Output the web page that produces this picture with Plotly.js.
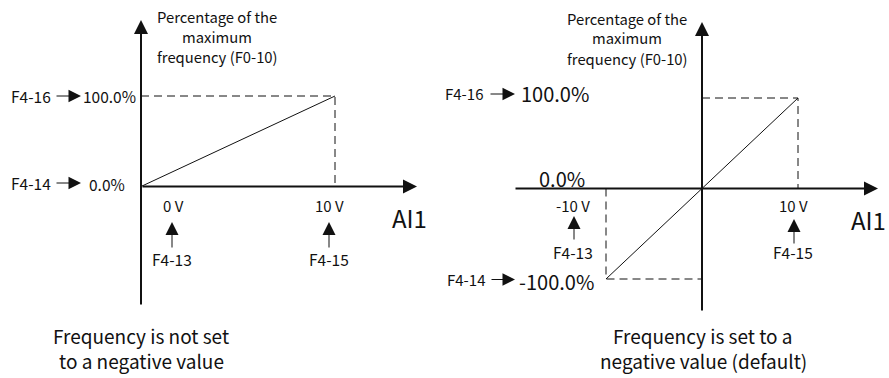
<!DOCTYPE html>
<html>
<head>
<meta charset="utf-8">
<script src="https://cdn.plot.ly/plotly-3.0.1.min.js"></script>
<style>html,body{margin:0;padding:0;background:#fff}#chart{width:889px;height:378px}</style>
</head>
<body>
<div id="chart"></div>
<script>
// ---- data ----
const leftVoltage = [0, 10];          // F4-13, F4-15 (V)
const leftPercent = [0, 100];         // F4-14, F4-16 (%)
const rightVoltage = [-10, 10];
const rightPercent = [-100, 100];
const leftTickLabels = ['0 V', '10 V'];
const rightTickLabels = ['-10 V', '10 V'];
const paramX = ['F4-13', 'F4-15'];
const paramY = ['F4-14', 'F4-16'];
const leftPctLabels = ['0.0%', '100.0%'];
const rightPctLabels = ['-100.0%', '0.0%', '100.0%'];
const yTitleLines = ['Percentage of the', 'maximum', 'frequency (F0-10)'];
const xTitle = 'AI1';
const captions = [['Frequency is not set', 'to a negative value'], ['Frequency is set to a', 'negative value (default)']];

// ---- layout helpers ----
const W = 889, H = 378;
const px = x => x / W;
const py = y => 1 - y / H;
const FONT = '"Noto Sans CJK SC", "Noto Sans", sans-serif';
const INK = '#111111';

// panel geometry (pixels)
const L = {ox: 141, oy: 186.5, xTip: 417, yTop: 20, yBot: 306, pxPerV: 19.4, pxPerPct: 0.905};
const R = {ox: 702, oy: 188.5, xTip: 878, xLeft: 514, yTop: 22, yBot: 312, pxPerV: 9.6, pxPerPct: 0.905};

const lxRange = [0, (L.xTip - L.ox) / L.pxPerV];
const lyRange = [-(L.yBot - L.oy) / L.pxPerPct, (L.oy - L.yTop) / L.pxPerPct];
const rxRange = [-(R.ox - R.xLeft) / R.pxPerV, (R.xTip - R.ox) / R.pxPerV];
const ryRange = [-(R.yBot - R.oy) / R.pxPerPct, (R.oy - R.yTop) / R.pxPerPct];

const solid = {color: INK, width: 1};
const dashed = {color: INK, width: 1, dash: '8px,5px'};

const traces = [
  {x: [leftVoltage[0], leftVoltage[1], leftVoltage[1]], y: [leftPercent[1], leftPercent[1], leftPercent[0]],
   mode: 'lines', line: dashed, xaxis: 'x', yaxis: 'y', hoverinfo: 'skip'},
  {x: leftVoltage, y: leftPercent, mode: 'lines', line: solid, xaxis: 'x', yaxis: 'y', hoverinfo: 'skip'},
  {x: [0, rightVoltage[1], rightVoltage[1]], y: [rightPercent[1], rightPercent[1], 0],
   mode: 'lines', line: dashed, xaxis: 'x2', yaxis: 'y2', hoverinfo: 'skip'},
  {x: [rightVoltage[0], rightVoltage[0], 0], y: [0, rightPercent[0], rightPercent[0]],
   mode: 'lines', line: dashed, xaxis: 'x2', yaxis: 'y2', hoverinfo: 'skip'},
  {x: rightVoltage, y: rightPercent, mode: 'lines', line: solid, xaxis: 'x2', yaxis: 'y2', hoverinfo: 'skip'}
];

const ann = [];
function axisArrow(xr, yr, x, y, ax, ay) {
  ann.push({xref: xr, yref: yr, axref: xr, ayref: yr, x: x, y: y, ax: ax, ay: ay, text: '',
    showarrow: true, arrowhead: 2, arrowsize: 1.4, arrowwidth: 2, arrowcolor: INK, standoff: 0, startstandoff: 0});
}
function pArrow(x0, y0, x1, y1, size) {
  ann.push({xref: 'paper', yref: 'paper', x: px(x1), y: py(y1), ax: x0 - x1, ay: y0 - y1, text: '',
    showarrow: true, arrowhead: 2, arrowsize: size, arrowwidth: 1, arrowcolor: INK, standoff: 0, startstandoff: 0});
}
function label(text, x, y, size, xanchor) {
  ann.push({xref: 'paper', yref: 'paper', x: px(x), y: py(y), text: text, showarrow: false,
    xanchor: xanchor || 'center', yanchor: 'middle', align: 'center', borderpad: 0,
    font: {family: FONT, size: size, color: INK}});
}
function lines(arr, x, y0, step, size) {
  arr.forEach((t, i) => label(t, x, y0 + i * step, size));
}

// axes with arrowheads
axisArrow('x', 'y', lxRange[1], 0, 0, 0);
axisArrow('x', 'y', 0, lyRange[1], 0, lyRange[0]);
axisArrow('x2', 'y2', rxRange[1], 0, rxRange[0], 0);
axisArrow('x2', 'y2', 0, ryRange[1], 0, ryRange[0]);

// ---- left panel labels ----
lines(yTitleLines, 217, 16, 20, 14.8);
label(paramY[1], 52, 96, 15.5, 'right');
pArrow(55, 96, 81, 96, 2.5);
label(leftPctLabels[1], 82, 96, 15.5, 'left');
label(paramY[0], 52, 183, 15.5, 'right');
pArrow(55, 183, 81, 183, 2.5);
label(leftPctLabels[0], 88, 184, 15.5, 'left');
label(leftTickLabels[0], 173, 205, 15);
label(leftTickLabels[1], 329, 205, 15);
pArrow(172, 249, 172, 222, 2.6);
pArrow(329, 249, 329, 222, 2.6);
label(paramX[0], 172, 259, 15.5);
label(paramX[1], 329, 259, 15.5);
label(xTitle, 409, 217, 24);
lines(captions[0], 141, 335, 25, 19);

// ---- right panel labels ----
lines(yTitleLines, 627, 18, 20, 14.8);
label(paramY[1], 484, 94, 15, 'right');
pArrow(489, 94, 515, 94, 2.5);
label(rightPctLabels[2], 520, 94, 20, 'left');
label(rightPctLabels[1], 538, 178, 20, 'left');
label(rightTickLabels[0], 573, 205, 15);
pArrow(574, 241, 574, 216, 2.6);
label(paramX[0], 573, 252, 15.5);
label(paramY[0], 486, 279, 15, 'right');
pArrow(490, 279.5, 515, 279.5, 2.5);
label(rightPctLabels[0], 518, 281, 20, 'left');
label(rightTickLabels[1], 793, 205, 15);
pArrow(794, 245, 794, 219, 2.6);
label(paramX[1], 793, 252, 15.5);
label(xTitle, 868, 219, 24);
lines(captions[1], 703, 335, 25, 19);

const hidden = {visible: false, showgrid: false, zeroline: false, fixedrange: true};
const layout = {
  width: W, height: H, margin: {l: 0, r: 0, t: 0, b: 0},
  paper_bgcolor: '#fff', plot_bgcolor: 'rgba(0,0,0,0)', showlegend: false,
  xaxis: Object.assign({}, hidden, {domain: [px(L.ox), px(L.xTip)], range: lxRange, anchor: 'y'}),
  yaxis: Object.assign({}, hidden, {domain: [py(L.yBot), py(L.yTop)], range: lyRange, anchor: 'x'}),
  xaxis2: Object.assign({}, hidden, {domain: [px(R.xLeft), px(R.xTip)], range: rxRange, anchor: 'y2'}),
  yaxis2: Object.assign({}, hidden, {domain: [py(R.yBot), py(R.yTop)], range: ryRange, anchor: 'x2'}),
  annotations: ann
};
Plotly.newPlot('chart', traces, layout, {staticPlot: true, displayModeBar: false});
</script>
</body>
</html>
